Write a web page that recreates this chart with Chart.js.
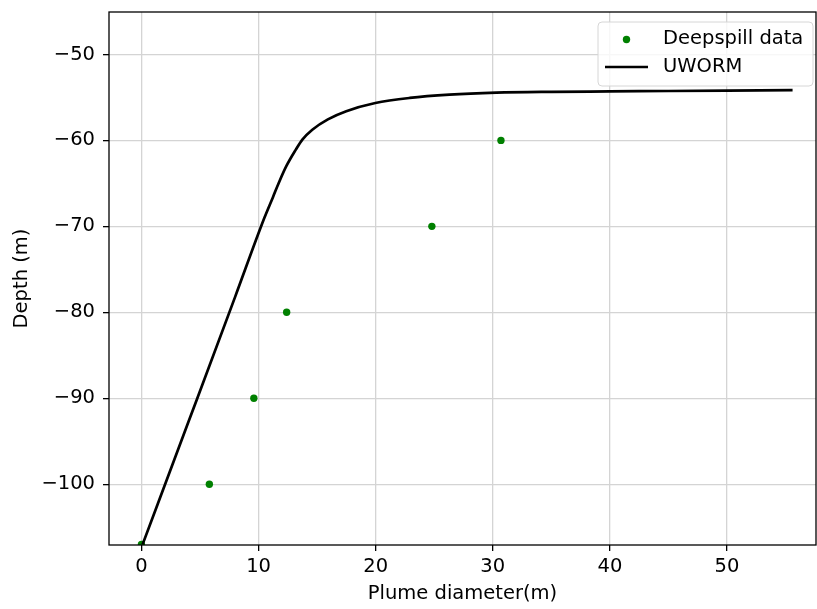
<!DOCTYPE html>
<html>
<head>
<meta charset="utf-8">
<title>Plume diameter vs depth</title>
<script src="https://cdn.jsdelivr.net/npm/chart.js@4.4.1/dist/chart.umd.min.js"></script>
<style>
    html, body { margin: 0; padding: 0; background: #fff; }
    #wrap { width: 817px; height: 609px; }
</style>
</head>
<body>
<div id="wrap"><canvas id="plumeChart" width="817" height="609"></canvas></div>
<script>
// Deepspill field measurements
const dataDiameter = [0, 5.8, 9.6, 12.4, 24.8, 30.7];
const dataDepth = [-107, -100, -90, -80, -70, -60];

// UWORM model profile
const modelDiameter = [0.1, 4.0, 8.0, 10.5, 11.23, 11.74, 12.37, 13.17, 13.74, 14.59, 15.92, 17.49, 19.97, 22.9, 26.3, 30.3, 35.0, 40.0, 45.0, 50.0, 55.6];
const modelDepth = [-107, -92.8, -78.2, -69.0, -66.6, -64.9, -63.0, -61.1, -59.9, -58.75, -57.55, -56.6, -55.65, -55.06, -54.68, -54.45, -54.35, -54.3, -54.25, -54.2, -54.15];

const xTicks = [0, 10, 20, 30, 40, 50];
const yTicks = [-100, -90, -80, -70, -60, -50];

const seriesNames = ['Deepspill data', 'UWORM'];
const dataColor = '#008000';
const modelColor = '#000000';

const fontSize = 19.5;
Chart.defaults.font.family = "'DejaVu Sans', sans-serif";
Chart.defaults.font.size = fontSize;
Chart.defaults.color = '#000';

const toPoints = (xs, ys) => xs.map((x, i) => ({ x: x, y: ys[i] }));
const minusSign = v => String(v).replace('-', '\u2212');

// Box round the plot area (all four spines)
const frame = {
    id: 'frame',
    afterDatasetsDraw(chart) {
        const { ctx, chartArea: a } = chart;
        ctx.save();
        ctx.strokeStyle = '#000';
        ctx.lineWidth = 1.3;
        ctx.strokeRect(a.left, a.top, a.right - a.left, a.bottom - a.top);
        ctx.restore();
    }
};

// Legend in the upper right corner of the plot area
const cornerLegend = {
    id: 'cornerLegend',
    afterDraw(chart) {
        const { ctx, chartArea: a } = chart;
        const w = 215, h = 64;
        const x = a.right - 3 - w, y = a.top + 10;
        ctx.save();
        ctx.beginPath();
        ctx.roundRect(x, y, w, h, 4);
        ctx.fillStyle = 'rgba(255,255,255,0.8)';
        ctx.fill();
        ctx.strokeStyle = '#d6d6d6';
        ctx.lineWidth = 1;
        ctx.stroke();

        ctx.beginPath();
        ctx.arc(x + 28.5, y + 17.5, 3.7, 0, Math.PI * 2);
        ctx.fillStyle = dataColor;
        ctx.fill();

        ctx.beginPath();
        ctx.moveTo(x + 7, y + 45);
        ctx.lineTo(x + 50, y + 45);
        ctx.strokeStyle = modelColor;
        ctx.lineWidth = 2.7;
        ctx.stroke();

        ctx.fillStyle = '#000';
        ctx.font = fontSize + "px 'DejaVu Sans', sans-serif";
        ctx.textBaseline = 'middle';
        ctx.fillText(seriesNames[0], x + 65, y + 16.5);
        ctx.fillText(seriesNames[1], x + 65, y + 44.5);
        ctx.restore();
    }
};

new Chart(document.getElementById('plumeChart'), {
    type: 'scatter',
    data: {
        datasets: [
            {
                label: seriesNames[0],
                data: toPoints(dataDiameter, dataDepth),
                backgroundColor: dataColor,
                borderColor: dataColor,
                pointRadius: 3.7,
                borderWidth: 0,
                clip: 0,
                order: 1
            },
            {
                label: seriesNames[1],
                data: toPoints(modelDiameter, modelDepth),
                showLine: true,
                borderColor: modelColor,
                borderWidth: 2.7,
                pointRadius: 0,
                cubicInterpolationMode: 'monotone',
                order: 0
            }
        ]
    },
    options: {
        responsive: false,
        animation: false,
        layout: { autoPadding: false, padding: { top: 12, right: 1, left: 0, bottom: 0 } },
        plugins: {
            legend: { display: false },
            tooltip: { enabled: false }
        },
        scales: {
            x: {
                type: 'linear',
                min: -2.77,
                max: 57.6,
                afterBuildTicks: s => { s.ticks = xTicks.map(v => ({ value: v })); },
                afterFit: s => { s.height = 64; s.paddingLeft = 0; s.paddingRight = 0; },
                ticks: { padding: 4, callback: v => minusSign(v) },
                grid: { color: '#d4d4d4', lineWidth: 1.3, tickColor: '#000', tickLength: 6 },
                border: { display: false },
                title: { display: true, text: 'Plume diameter(m)', padding: { top: 0, bottom: 3 } }
            },
            y: {
                type: 'linear',
                min: -107.07,
                max: -45.06,
                afterBuildTicks: s => { s.ticks = yTicks.map(v => ({ value: v })); },
                afterFit: s => { s.width = 109; s.paddingTop = 0; s.paddingBottom = 0; },
                ticks: { padding: 8, callback: v => minusSign(v) },
                grid: { color: '#d4d4d4', lineWidth: 1.3, tickColor: '#000', tickLength: 6 },
                border: { display: false },
                title: { display: true, text: 'Depth (m)', padding: { top: 10, bottom: 0 } }
            }
        }
    },
    plugins: [frame, cornerLegend]
});
</script>
</body>
</html>
